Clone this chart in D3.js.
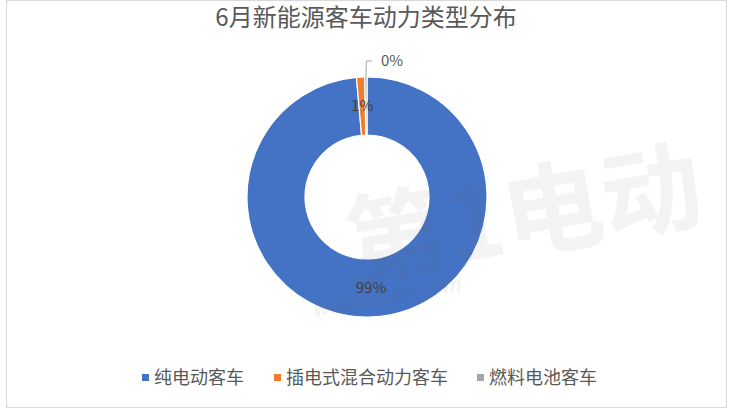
<!DOCTYPE html>
<html><head><meta charset="utf-8">
<script src="https://cdn.jsdelivr.net/npm/d3@7"></script>
<style>body{margin:0;background:#fff}svg{display:block}text{font-family:"Noto Sans CJK SC","Noto Sans",sans-serif}</style>
</head><body>
<svg id="c" width="734" height="411"></svg>
<script>
const categories = ["纯电动客车", "插电式混合动力客车", "燃料电池客车"];
const values = [98.6, 1.1, 0.3];
const labels = ["99%", "1%", "0%"];
const colors = ["#4472C4", "#ED7D31", "#A5A5A5"];
const title = "6月新能源客车动力类型分布";

const svg = d3.select("#c");
// chart border
svg.append("rect").attr("x", 6.5).attr("y", 0.5).attr("width", 720).attr("height", 407)
  .attr("fill", "#fff").attr("stroke", "#d9d9d9").attr("stroke-width", 1);

// title
svg.append("text").attr("x", 366).attr("y", 26).attr("text-anchor", "middle")
  .attr("font-size", 24).attr("fill", "#595959").text(title);

const cx = 367, cy = 197, rO = 120, rI = 62;
const g = svg.append("g").attr("transform", `translate(${cx},${cy})`);
const pie = d3.pie().sort(null).value(d => d)(values);
const arc = d3.arc().innerRadius(rI).outerRadius(rO);
g.selectAll("path").data(pie).enter().append("path")
  .attr("d", arc).attr("fill", (d, i) => colors[i])
  .attr("stroke", "#fff").attr("stroke-width", 1.2);

// watermark (faint)
const wm = svg.append("g").attr("opacity", 0.08).attr("transform", "translate(530,250) rotate(-10)");
wm.append("text").attr("x", 0).attr("y", 0).attr("text-anchor", "middle")
  .attr("font-size", 100).attr("font-weight", "bold").attr("fill", "#707070").text("第1电动");
wm.append("text").attr("x", -150).attr("y", 28).attr("text-anchor", "middle")
  .attr("font-size", 20).attr("font-style", "italic").attr("font-weight", "bold").attr("fill", "#707070").text("www.d1ev.com");

// data labels
const mid = (rO + rI) / 2;
const lab = d3.arc().innerRadius(mid).outerRadius(mid);
[0, 1].forEach(i => {
  const c = lab.centroid(pie[i]);
  g.append("text").attr("x", c[0]).attr("y", c[1]).attr("dy", "0.35em")
    .attr("text-anchor", "middle").attr("font-size", 15).attr("fill", "#404040").text(labels[i]);
});
// leader for last slice
const p = pie[2];
const ang = (p.startAngle + p.endAngle) / 2;
const x0 = Math.sin(ang) * (rO - 1), y0 = -Math.cos(ang) * (rO - 1);
g.append("polyline")
  .attr("points", `${x0},${y0} ${x0 + 0.5},${-136} ${x0 + 6},${-136}`)
  .attr("fill", "none").attr("stroke", "#a6a6a6").attr("stroke-width", 1);
g.append("text").attr("x", x0 + 15).attr("y", -136).attr("dy", "0.35em")
  .attr("font-size", 15).attr("fill", "#595959").text(labels[2]);

// legend
const lx = [142, 274, 477];
const leg = svg.append("g");
categories.forEach((c, i) => {
  leg.append("rect").attr("x", lx[i]).attr("y", 374).attr("width", 7).attr("height", 7).attr("fill", colors[i]);
  leg.append("text").attr("x", lx[i] + 12).attr("y", 378).attr("dy", "0.35em")
    .attr("font-size", 18).attr("fill", "#595959").text(c);
});
</script>
</body></html>
